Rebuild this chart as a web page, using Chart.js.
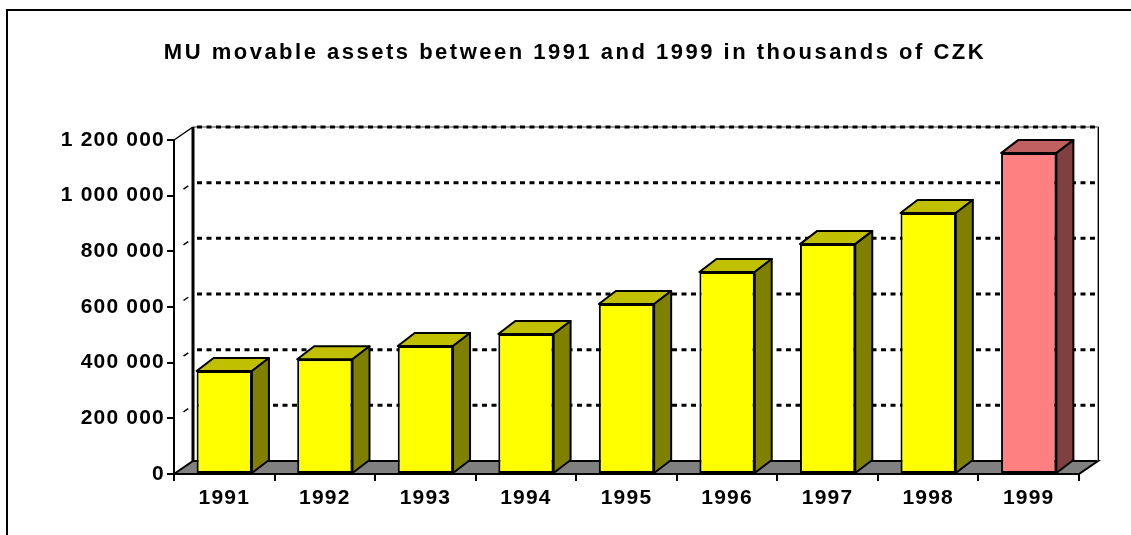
<!DOCTYPE html>
<html>
<head>
<meta charset="utf-8">
<script src="https://cdn.jsdelivr.net/npm/chart.js@4"></script>
<style>
    html, body { margin: 0; padding: 0; background: #fff; }
    #chart-container { width: 1131px; height: 535px; overflow: hidden; }
</style>
</head>
<body>
<div id="chart-container"><canvas id="assets-chart" width="1131" height="535"></canvas></div>
<script>
// values, thousands of CZK shown as CZK
const YEARS = ['1991', '1992', '1993', '1994', '1995', '1996', '1997', '1998', '1999'];
const ASSETS = [370000, 412000, 460000, 503000, 611000, 726000, 826000, 938000, 1153000];
const Y_TICKS = [0, 200000, 400000, 600000, 800000, 1000000, 1200000];

const FRONT_COLORS = ['#FFFF00', '#FFFF00', '#FFFF00', '#FFFF00', '#FFFF00', '#FFFF00', '#FFFF00', '#FFFF00', '#FF8080'];
const TOP_COLORS = ['#C0C000', '#C0C000', '#C0C000', '#C0C000', '#C0C000', '#C0C000', '#C0C000', '#C0C000', '#C06060'];
const SIDE_COLORS = ['#808000', '#808000', '#808000', '#808000', '#808000', '#808000', '#808000', '#808000', '#804040'];

const FONT = "'Liberation Sans', Arial, sans-serif";

// depth of the box and of the bars
const WALL_DX = 19, WALL_DY = -13;
const BAR_DX = 17, BAR_DY = -13;

function formatThousands(v) {
    return String(v).replace(/\B(?=(\d{3})+(?!\d))/g, ' ');
}

const box3d = {
    id: 'box3d',
    afterLayout(chart) {
        // title is centred a bit right of the page centre
        if (chart.titleBlock) {
            chart.titleBlock.left = 71;
            chart.titleBlock.right = 1079;
        }
    },
    beforeDraw(chart) {
        var ctx = chart.ctx;
        // outer frame, runs off the page on the right and bottom
        ctx.save();
        ctx.strokeStyle = '#000';
        ctx.lineWidth = 2;
        ctx.strokeRect(7, 10, 1200, 600);
        ctx.restore();
        // title spacing
        ctx.letterSpacing = '2.5px';
    },
    beforeDatasetsDraw(chart) {
        var ctx = chart.ctx;
        var x = chart.scales.x, y = chart.scales.y;
        var left = x.left, right = x.right, top = y.top, bottom = y.bottom;
        ctx.save();
        ctx.letterSpacing = '0px';

        // floor
        ctx.beginPath();
        ctx.moveTo(left, bottom);
        ctx.lineTo(right, bottom);
        ctx.lineTo(right + WALL_DX, bottom + WALL_DY);
        ctx.lineTo(left + WALL_DX, bottom + WALL_DY);
        ctx.closePath();
        ctx.fillStyle = '#808080';
        ctx.fill();
        ctx.strokeStyle = '#000';
        ctx.lineWidth = 2;
        ctx.stroke();

        // back wall outline
        ctx.strokeStyle = '#808080';
        ctx.lineWidth = 1.5;
        ctx.beginPath();
        ctx.moveTo(left + WALL_DX, top + WALL_DY);
        ctx.lineTo(right + WALL_DX, top + WALL_DY);
        ctx.lineTo(right + WALL_DX, bottom + WALL_DY);
        ctx.stroke();
        ctx.strokeStyle = '#000';
        ctx.lineWidth = 1;
        ctx.beginPath();
        ctx.moveTo(right + WALL_DX + 0.5, top + WALL_DY);
        ctx.lineTo(right + WALL_DX + 0.5, bottom + WALL_DY);
        ctx.stroke();

        // dotted grid on back wall
        ctx.strokeStyle = '#000';
        ctx.lineWidth = 3;
        ctx.setLineDash([5, 4.5]);
        for (var v of Y_TICKS) {
            if (v === 0) continue;
            var py = y.getPixelForValue(v) + WALL_DY;
            ctx.beginPath();
            ctx.moveTo(left + WALL_DX + 4, py);
            ctx.lineTo(right + WALL_DX, py);
            ctx.stroke();
        }
        ctx.setLineDash([]);

        // grid on the left wall, only a short dash shows
        ctx.lineWidth = 1.5;
        for (var v of Y_TICKS) {
            if (v === 0) continue;
            var py = y.getPixelForValue(v);
            ctx.beginPath();
            if (v === Y_TICKS[Y_TICKS.length - 1]) {
                ctx.moveTo(left, py);
                ctx.lineTo(left + WALL_DX, py + WALL_DY);
            } else {
                ctx.moveTo(left + WALL_DX * 0.5, py + WALL_DY * 0.5);
                ctx.lineTo(left + WALL_DX * 0.75, py + WALL_DY * 0.75);
            }
            ctx.stroke();
        }

        // back left edge
        ctx.lineWidth = 3;
        ctx.beginPath();
        ctx.moveTo(left + WALL_DX, top + WALL_DY);
        ctx.lineTo(left + WALL_DX, bottom + WALL_DY);
        ctx.stroke();
        ctx.restore();
    },
    afterDatasetsDraw(chart) {
        var ctx = chart.ctx;
        var meta = chart.getDatasetMeta(0);
        ctx.save();
        ctx.letterSpacing = '0px';
        ctx.strokeStyle = '#000';
        ctx.lineWidth = 2;
        ctx.lineJoin = 'round';
        meta.data.forEach((bar, i) => {
            var p = bar.getProps(['x', 'y', 'base', 'width'], true);
            var l = p.x - p.width / 2, r = p.x + p.width / 2;
            var t = p.y, b = p.base;

            // top face
            ctx.beginPath();
            ctx.moveTo(l, t);
            ctx.lineTo(l + BAR_DX, t + BAR_DY);
            ctx.lineTo(r + BAR_DX, t + BAR_DY);
            ctx.lineTo(r, t);
            ctx.closePath();
            ctx.fillStyle = TOP_COLORS[i];
            ctx.fill();
            ctx.stroke();

            // side face
            ctx.beginPath();
            ctx.moveTo(r, t);
            ctx.lineTo(r + BAR_DX, t + BAR_DY);
            ctx.lineTo(r + BAR_DX, b + BAR_DY);
            ctx.lineTo(r, b);
            ctx.closePath();
            ctx.fillStyle = SIDE_COLORS[i];
            ctx.fill();
            ctx.stroke();
        });
        ctx.restore();
        // tick labels are drawn after this (ticks.z = 1)
        ctx.letterSpacing = '1.2px';
    }
};

var ctx = document.getElementById('assets-chart').getContext('2d');
var chart = new Chart(ctx, {
    type: 'bar',
    data: {
        labels: YEARS,
        datasets: [{
            label: 'MU movable assets',
            data: ASSETS,
            backgroundColor: FRONT_COLORS,
            borderColor: '#000',
            borderWidth: 2,
            borderSkipped: false,
            barPercentage: 0.55,
            categoryPercentage: 1
        }]
    },
    options: {
        responsive: false,
        animation: false,
        devicePixelRatio: 1,
        layout: {
            padding: { left: 30, right: 52, top: 0, bottom: 0 }
        },
        plugins: {
            legend: { display: false },
            tooltip: { enabled: false },
            title: {
                display: true,
                text: 'MU movable assets between 1991 and 1999 in thousands of CZK',
                color: '#000',
                font: { family: FONT, size: 22, weight: 'bold', lineHeight: 1.2 },
                padding: { top: 40, bottom: 73.6 }
            }
        },
        scales: {
            x: {
                grid: {
                    display: true,
                    offset: true,
                    drawOnChartArea: false,
                    drawTicks: true,
                    tickLength: 7,
                    color: '#000',
                    lineWidth: 2
                },
                border: { display: true, color: '#000', width: 2 },
                ticks: {
                    color: '#000',
                    padding: 5,
                    z: 1,
                    maxRotation: 0,
                    font: { family: FONT, size: 21, weight: 'bold' }
                },
                afterFit: (scale) => { scale.height = 61; }
            },
            y: {
                min: 0,
                max: 1200000,
                afterBuildTicks: (scale) => {
                    scale.ticks = Y_TICKS.map((v) => ({ value: v }));
                },
                grid: {
                    display: true,
                    drawOnChartArea: false,
                    drawTicks: true,
                    tickLength: 7,
                    color: '#000',
                    lineWidth: 2
                },
                border: { display: true, color: '#000', width: 2 },
                ticks: {
                    color: '#000',
                    padding: 2,
                    z: 1,
                    font: { family: FONT, size: 21, weight: 'bold' },
                    callback: (v) => formatThousands(v)
                },
                afterFit: (scale) => { scale.width = 144; }
            }
        }
    },
    plugins: [box3d]
});
</script>
</body>
</html>
